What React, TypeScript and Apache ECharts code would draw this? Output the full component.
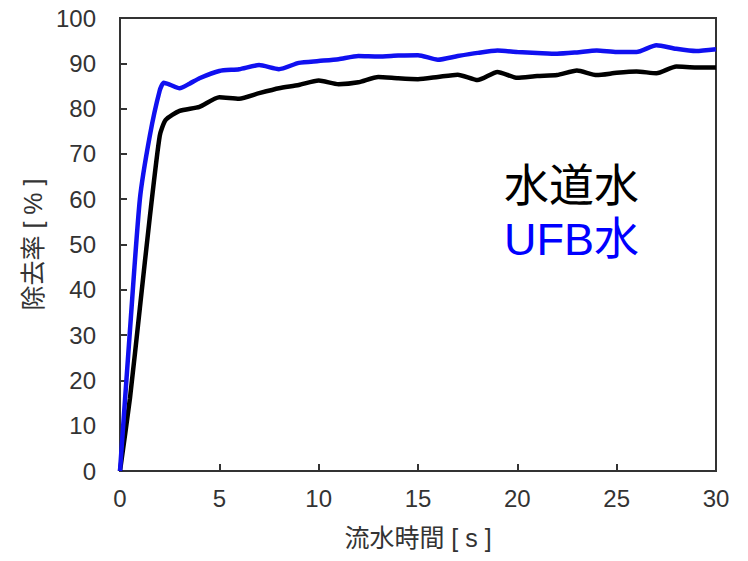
import React, { useEffect, useRef } from "react";
import * as echarts from "echarts";

const blueTimes = [0, 0.5, 1.0, 1.5, 2.0, 2.2, 2.5, 3.0, 3.5, 4, 5, 6, 7, 8, 9, 10, 11, 12, 13, 14, 15, 16, 17, 18, 19, 20, 21, 22, 23, 24, 25, 26, 27, 28, 29, 30];
const blueValues = [0, 31, 60, 74, 84, 85.7, 85.3, 84.5, 85.5, 86.7, 88.3, 88.7, 89.6, 88.7, 90.1, 90.5, 90.9, 91.6, 91.5, 91.7, 91.8, 90.8, 91.6, 92.3, 92.8, 92.5, 92.3, 92.1, 92.4, 92.8, 92.5, 92.5, 94.0, 93.2, 92.7, 93.1];

const blackTimes = [0, 0.5, 1.0, 1.5, 2.0, 2.3, 3, 4, 5, 6, 7, 8, 9, 10, 11, 12, 13, 14, 15, 16, 17, 18, 19, 20, 21, 22, 23, 24, 25, 26, 27, 28, 29, 30];
const blackValues = [0, 16, 36, 56, 74, 77.5, 79.5, 80.4, 82.5, 82.2, 83.4, 84.5, 85.2, 86.2, 85.4, 85.8, 87.0, 86.7, 86.5, 87.0, 87.5, 86.3, 88.1, 86.8, 87.2, 87.4, 88.4, 87.4, 87.9, 88.2, 87.8, 89.3, 89.1, 89.1];

const seriesNames = ["水道水", "UFB水"];
const xAxisName = "流水時間 [ s ]";
const yAxisName = "除去率 [ % ]";

export default function App() {
  const ref = useRef<HTMLDivElement>(null);
  useEffect(() => {
    document.body.style.margin = "0";
    if (!ref.current) return;
    const chart = echarts.init(ref.current, undefined, { renderer: "svg" });
    const labelFont = '"Liberation Sans", Arial, "Noto Sans CJK JP", sans-serif';
    const cjkFont = '"Liberation Sans", "Noto Sans CJK JP", sans-serif';
    chart.setOption({
      animation: false,
      backgroundColor: "#ffffff",
      grid: {
        left: 120,
        right: 32,
        top: 18,
        bottom: 90,
        show: true,
        borderColor: "#333333",
        borderWidth: 2,
        backgroundColor: "transparent",
      },
      xAxis: {
        type: "value",
        min: 0,
        max: 30,
        interval: 5,
        name: xAxisName,
        nameLocation: "middle",
        nameGap: 54,
        nameTextStyle: { fontSize: 25, color: "#333333", fontFamily: cjkFont },
        axisLine: { show: true, onZero: false, lineStyle: { color: "#333333", width: 2 } },
        axisTick: { show: true, inside: true, length: 7, lineStyle: { color: "#333333", width: 2 } },
        axisLabel: { fontSize: 24, color: "#333333", margin: 15, fontFamily: labelFont },
        splitLine: { show: false },
      },
      yAxis: {
        type: "value",
        min: 0,
        max: 100,
        interval: 10,
        name: yAxisName,
        nameLocation: "middle",
        nameRotate: 90,
        nameGap: 72,
        nameTextStyle: { fontSize: 25, color: "#333333", fontFamily: cjkFont },
        axisLine: { show: true, onZero: false, lineStyle: { color: "#333333", width: 2 } },
        axisTick: { show: true, inside: true, length: 7, lineStyle: { color: "#333333", width: 2 } },
        axisLabel: { fontSize: 24, color: "#333333", margin: 24, fontFamily: labelFont },
        splitLine: { show: false },
      },
      series: [
        {
          name: seriesNames[0],
          type: "line",
          data: blackTimes.map((t, i) => [t, blackValues[i]]),
          showSymbol: false,
          smooth: 0.2,
          lineStyle: { color: "#000000", width: 4.5 },
          z: 3,
        },
        {
          name: seriesNames[1],
          type: "line",
          data: blueTimes.map((t, i) => [t, blueValues[i]]),
          showSymbol: false,
          smooth: 0.2,
          lineStyle: { color: "#1010f0", width: 4.5 },
          z: 4,
        },
      ],
      graphic: [
        {
          type: "text",
          left: 504,
          top: 164,
          style: { text: seriesNames[0], fill: "#000000", font: "45px " + cjkFont },
        },
        {
          type: "text",
          left: 504,
          top: 217,
          style: { text: seriesNames[1], fill: "#0000ff", font: "45px " + cjkFont },
        },
      ],
    });
    return () => chart.dispose();
  }, []);
  return <div ref={ref} style={{ width: 748, height: 561 }} />;
}
